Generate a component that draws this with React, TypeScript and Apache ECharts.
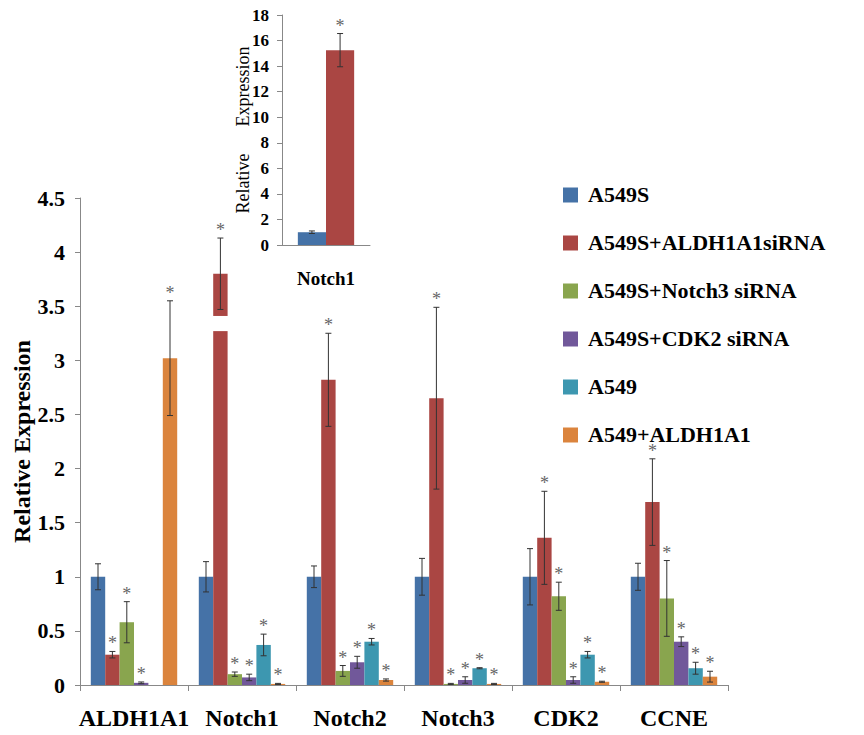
import React, { useEffect, useRef } from "react";
import * as echarts from "echarts";

const categories = ["ALDH1A1", "Notch1", "Notch2", "Notch3", "CDK2", "CCNE"];
const seriesNames = [
  "A549S",
  "A549S+ALDH1A1siRNA",
  "A549S+Notch3 siRNA",
  "A549S+CDK2 siRNA",
  "A549",
  "A549+ALDH1A1",
];
const colors = ["#4572A7", "#AA4643", "#89A54E", "#71589A", "#3D97B0", "#DB843D"];

const a549s = [1.0, 1.0, 1.0, 1.0, 1.0, 1.0];
const a549sErr = [0.12, 0.14, 0.1, 0.17, 0.26, 0.125];
const a549sStar = [0, 0, 0, 0, 0, 0];

const aldhSi = [0.28, 3.8, 2.82, 2.65, 1.36, 1.69];
const aldhSiErr = [0.03, 0.33, 0.43, 0.84, 0.43, 0.4];
const aldhSiStar = [1, 1, 1, 1, 1, 1];

const notch3Si = [0.58, 0.1, 0.13, 0.01, 0.82, 0.8];
const notch3SiErr = [0.19, 0.02, 0.05, 0.005, 0.13, 0.35];
const notch3SiStar = [1, 1, 1, 1, 1, 1];

const cdk2Si = [0.02, 0.07, 0.21, 0.046, 0.046, 0.4];
const cdk2SiErr = [0.008, 0.03, 0.055, 0.03, 0.03, 0.045];
const cdk2SiStar = [1, 1, 1, 1, 1, 1];

const a549 = [null, 0.37, 0.4, 0.155, 0.28, 0.155];
const a549Err = [null, 0.1, 0.03, 0.005, 0.03, 0.055];
const a549Star = [0, 1, 1, 1, 1, 1];

const a549Aldh = [3.02, 0.01, 0.046, 0.01, 0.03, 0.077];
const a549AldhErr = [0.53, 0.005, 0.01, 0.005, 0.005, 0.05];
const a549AldhStar = [1, 1, 1, 1, 1, 1];

const mainTicks = [0, 0.5, 1, 1.5, 2, 2.5, 3, 3.5, 4, 4.5];
const mainTickLabels = ["0", "0.5", "1", "1.5", "2", "2.5", "3", "3.5", "4", "4.5"];

// broken segment on the Notch1 bar of A549S+ALDH1A1siRNA
const breakCategory = 1;
const breakRange = [3.27, 3.41];

// inset
const insetCategories = ["Notch1"];
const insetA549S = [1.0];
const insetA549SErr = [0.1];
const insetA549SStar = [0];
const insetSiRNA = [15.25];
const insetSiRNAErr = [1.3];
const insetSiRNAStar = [1];
const insetTicks = [0, 2, 4, 6, 8, 10, 12, 14, 16, 18];
const insetTickLabels = ["0", "2", "4", "6", "8", "10", "12", "14", "16", "18"];

const values = [a549s, aldhSi, notch3Si, cdk2Si, a549, a549Aldh];
const errs = [a549sErr, aldhSiErr, notch3SiErr, cdk2SiErr, a549Err, a549AldhErr];
const stars = [a549sStar, aldhSiStar, notch3SiStar, cdk2SiStar, a549Star, a549AldhStar];

const FONT = "Liberation Serif";
const MAIN_GAP = 0.2;
const INSET_GAP = 0.36;

function errRenderer(k: number, n: number, gap: number) {
  return (params: any, api: any) => {
    const ci = api.value(0);
    const v = api.value(1);
    const e = api.value(2);
    const s = api.value(3);
    const center = api.coord([ci, v]);
    const band = api.size([1, 0])[0];
    const bw = (band * (1 - gap)) / n;
    const x = center[0] + (k - (n - 1) / 2) * bw;
    const yTop = api.coord([ci, v + e])[1];
    const yLow = api.coord([ci, Math.max(v - e, 0)])[1];
    const stroke = { stroke: "#333", lineWidth: 1 };
    const children: any[] = [
      { type: "line", shape: { x1: x, y1: yTop, x2: x, y2: yLow }, style: stroke },
      { type: "line", shape: { x1: x - 3, y1: yTop, x2: x + 3, y2: yTop }, style: stroke },
      { type: "line", shape: { x1: x - 3, y1: yLow, x2: x + 3, y2: yLow }, style: stroke },
    ];
    if (s) {
      children.push({
        type: "text",
        style: {
          text: "*",
          x: x,
          y: yTop - 8,
          fill: "#666",
          fontFamily: FONT,
          fontSize: 18,
          align: "center",
          verticalAlign: "middle",
        },
      });
    }
    return { type: "group", children };
  };
}

// category labels under the x axis, placed through the axis scale
function xLabelSeries(axisIndex: number, cats: string[], fontSize: number, offset: number) {
  return {
    name: "xlabels-" + axisIndex,
    type: "custom",
    xAxisIndex: axisIndex,
    yAxisIndex: axisIndex,
    data: cats.map((c, i) => [i, 0]),
    silent: true,
    z: 6,
    renderItem: (params: any, api: any) => {
      const p = api.coord([api.value(0), api.value(1)]);
      return {
        type: "text",
        style: {
          text: cats[params.dataIndex],
          x: p[0],
          y: p[1] + offset,
          fill: "#000",
          fontFamily: FONT,
          fontWeight: "bold",
          fontSize,
          align: "center",
          verticalAlign: "middle",
        },
      };
    },
  };
}

// value tick labels left of the y axis, placed through the axis scale
function yLabelSeries(axisIndex: number, ticks: number[], labels: string[], fontSize: number, margin: number) {
  return {
    name: "ylabels-" + axisIndex,
    type: "custom",
    xAxisIndex: axisIndex,
    yAxisIndex: axisIndex,
    data: ticks.map((t) => [0, t]),
    silent: true,
    z: 6,
    renderItem: (params: any, api: any) => {
      const p = api.coord([0, api.value(1)]);
      const band = api.size([1, 0])[0];
      return {
        type: "text",
        style: {
          text: labels[params.dataIndex],
          x: p[0] - band / 2 - margin,
          y: p[1],
          fill: "#000",
          fontFamily: FONT,
          fontWeight: "bold",
          fontSize,
          align: "right",
          verticalAlign: "middle",
        },
      };
    },
  };
}

export default function App() {
  const ref = useRef<HTMLDivElement>(null);
  useEffect(() => {
    const chart = echarts.init(ref.current!, null, { renderer: "svg" });
    const series: any[] = [];
    seriesNames.forEach((name, k) => {
      series.push({
        name,
        type: "bar",
        xAxisIndex: 0,
        yAxisIndex: 0,
        data: values[k],
        itemStyle: { color: colors[k] },
        barGap: "0%",
        barCategoryGap: MAIN_GAP * 100 + "%",
        z: 2,
      });
    });
    seriesNames.forEach((name, k) => {
      const data: any[] = [];
      values[k].forEach((v, i) => {
        if (v !== null) data.push([i, v, errs[k][i], stars[k][i]]);
      });
      series.push({
        name: "err-" + k,
        type: "custom",
        xAxisIndex: 0,
        yAxisIndex: 0,
        data,
        renderItem: errRenderer(k, seriesNames.length, MAIN_GAP),
        z: 5,
        silent: true,
      });
    });
    series.push({
      name: "break",
      type: "custom",
      xAxisIndex: 0,
      yAxisIndex: 0,
      data: [[breakCategory, breakRange[0], breakRange[1]]],
      renderItem: (params: any, api: any) => {
        const ci = api.value(0);
        const p0 = api.coord([ci, api.value(1)]);
        const p1 = api.coord([ci, api.value(2)]);
        const band = api.size([1, 0])[0];
        const bw = (band * (1 - MAIN_GAP)) / seriesNames.length;
        const x = p0[0] + (1 - (seriesNames.length - 1) / 2) * bw;
        return {
          type: "rect",
          shape: { x: x - bw / 2 - 1, y: p1[1], width: bw + 2, height: p0[1] - p1[1] },
          style: { fill: "#fff" },
        };
      },
      z: 4,
      silent: true,
    });
    // inset
    series.push({
      name: "inset-A549S",
      type: "bar",
      xAxisIndex: 1,
      yAxisIndex: 1,
      data: insetA549S,
      itemStyle: { color: colors[0] },
      barGap: "0%",
      barCategoryGap: INSET_GAP * 100 + "%",
    });
    series.push({
      name: "inset-siRNA",
      type: "bar",
      xAxisIndex: 1,
      yAxisIndex: 1,
      data: insetSiRNA,
      itemStyle: { color: colors[1] },
      barGap: "0%",
      barCategoryGap: INSET_GAP * 100 + "%",
    });
    const insetSets = [
      [insetA549S, insetA549SErr, insetA549SStar],
      [insetSiRNA, insetSiRNAErr, insetSiRNAStar],
    ];
    insetSets.forEach((set, k) => {
      series.push({
        name: "inset-err-" + k,
        type: "custom",
        xAxisIndex: 1,
        yAxisIndex: 1,
        data: set[0].map((v, i) => [i, v, set[1][i], set[2][i]]),
        renderItem: errRenderer(k, 2, INSET_GAP),
        z: 5,
        silent: true,
      });
    });
    series.push(xLabelSeries(0, categories, 24, 33));
    series.push(yLabelSeries(0, mainTicks, mainTickLabels, 22, 15));
    series.push(xLabelSeries(1, insetCategories, 19, 33));
    series.push(yLabelSeries(1, insetTicks, insetTickLabels, 17, 13));

    // legend drawn as graphic (square + serif bold text)
    const legendEls: any[] = [];
    seriesNames.forEach((name, k) => {
      const cy = 195 + k * 48;
      legendEls.push({
        type: "rect",
        left: 563,
        top: cy - 7.5,
        shape: { width: 15, height: 15 },
        style: { fill: colors[k] },
      });
      legendEls.push({
        type: "text",
        left: 588,
        top: cy - 12,
        style: {
          text: name,
          fill: "#000",
          fontFamily: FONT,
          fontWeight: "bold",
          fontSize: 22,
        },
      });
    });

    chart.setOption({
      animation: false,
      graphic: legendEls,
      grid: [
        { left: 80, top: 198, width: 648, height: 487 },
        { left: 282, top: 15, width: 88, height: 230 },
      ],
      xAxis: [
        {
          type: "category",
          gridIndex: 0,
          data: categories,
          axisLine: { lineStyle: { color: "#888" } },
          axisTick: { show: true, length: 6, lineStyle: { color: "#888" } },
          axisLabel: { show: false },
        },
        {
          type: "category",
          gridIndex: 1,
          data: insetCategories,
          axisLine: { lineStyle: { color: "#888" } },
          axisTick: { show: false },
          axisLabel: { show: false },
        },
      ],
      yAxis: [
        {
          type: "value",
          gridIndex: 0,
          min: 0,
          max: 4.5,
          interval: 0.5,
          name: "Relative Expression",
          nameLocation: "middle",
          nameGap: 46,
          nameTextStyle: { color: "#000", fontFamily: FONT, fontSize: 24, fontWeight: "bold" },
          splitLine: { show: false },
          axisLine: { show: true, lineStyle: { color: "#888" } },
          axisTick: { show: true, length: 5, lineStyle: { color: "#888" } },
          axisLabel: { show: false },
        },
        {
          type: "value",
          gridIndex: 1,
          min: 0,
          max: 18,
          interval: 2,
          name: "Relative      Expression",
          nameLocation: "middle",
          nameGap: 30,
          nameTextStyle: { color: "#000", fontFamily: FONT, fontSize: 18 },
          splitLine: { show: false },
          axisLine: { show: true, lineStyle: { color: "#888" } },
          axisTick: { show: true, length: 5, lineStyle: { color: "#888" } },
          axisLabel: { show: false },
        },
      ],
      series,
    });
    return () => chart.dispose();
  }, []);
  return (
    <div
      ref={ref}
      style={{ position: "fixed", left: 0, top: 0, width: 864, height: 735, background: "#fff" }}
    />
  );
}
